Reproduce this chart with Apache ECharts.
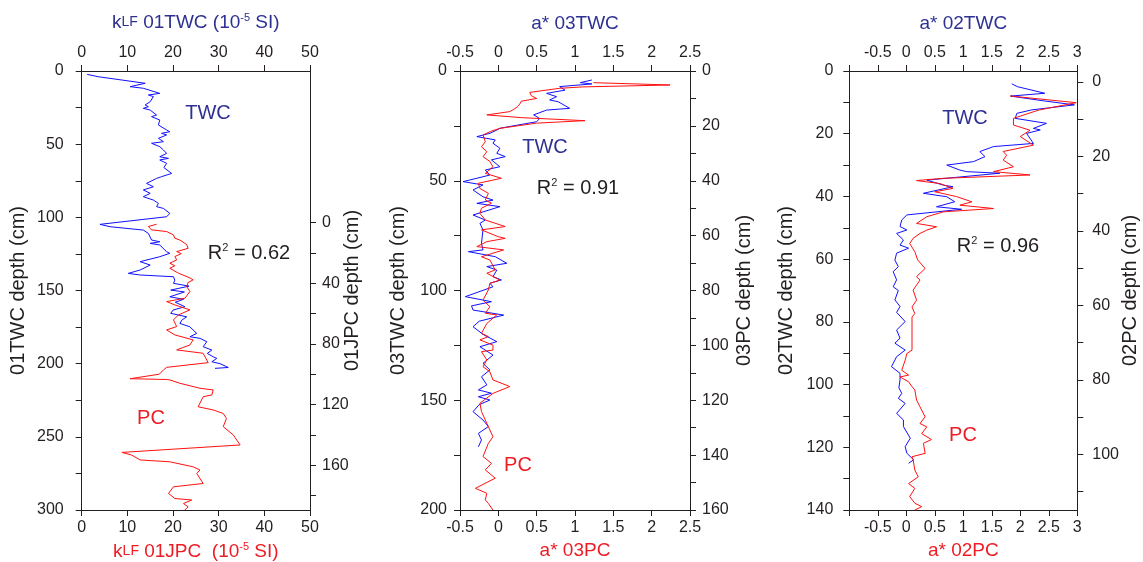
<!DOCTYPE html>
<html><head><meta charset="utf-8">
<script src="https://cdn.jsdelivr.net/npm/echarts@6/dist/echarts.min.js"></script>
<style>html,body{margin:0;padding:0;background:#fff}#c{width:1143px;height:562px}</style>
</head><body><div id="c"></div><script>
// ---- Panel 1: kLF 01TWC (depth cm, value 1e-5 SI) and 01JPC ----
const p1Twc = [[2.3,1.2],[3.9,3.6],[5,4.0],[8.4,13.9],[10.7,10.6],[11.8,13.5],[15.3,17.1],[16.4,14.6],[17.5,15.7],[21,15.0],[23.2,13.9],[24.4,14.6],[25.5,13.5],[26.7,15.0],[30.1,16.4],[31.2,15.3],[33.5,17.1],[36.9,16.8],[40.3,18.6],[41.5,19.3],[42.6,17.5],[43.7,18.6],[46,16.8],[48.3,17.9],[49.4,15.3],[51.7,17.1],[54,17.9],[56.3,18.6],[58.6,17.1],[59.7,19.0],[60.8,17.1],[63.1,18.6],[66,18.0],[70,19.7],[72.2,17.5],[73.4,16.4],[76.8,14.2],[79.1,15.7],[81.3,13.5],[83.6,15.0],[85.9,13.5],[88.2,15.7],[90.5,16.8],[92.7,16.4],[93.9,17.9],[97.3,19.3],[98.4,19.7],[99.6,18.6],[104.8,4.0],[106.4,6.2],[108.7,13.5],[111,14.6],[115.5,15.3],[116.7,17.1],[117.8,15.0],[118.9,17.1],[123.5,18.6],[124.6,19.3],[126.9,17.1],[130.3,12.8],[132.6,15.0],[136,12.8],[138.3,10.2],[139.4,12.8],[140.6,20.1],[142.9,20.4],[145.1,20.1],[147,23.5],[149.7,19.5],[151,22.5],[154.3,19.3],[156,22.3],[158,20.5],[161.1,22.6],[163.4,20.0],[165.6,19.5],[168,23.0],[170,22.0],[172.5,21.5],[174.8,23.7],[177,24.4],[179.3,25.2],[181.6,23.7],[182.7,25.9],[185,27.4],[188.4,26.6],[190.7,28.5],[193,27.5],[195.3,28.8],[196.4,29.6],[198.7,28.5],[200,30.3],[202.6,32.1],[203.2,29.2]];
const p1Pc = [[1.1,16.4],[2.6,14.6],[4.8,15.3],[5.9,18.6],[8.1,20.1],[10.3,20.4],[11.5,21.5],[12.5,21.2],[14.5,23.0],[17,23.3],[19.1,20.8],[20.5,21.8],[22.4,20.4],[24.6,20.8],[26.8,19.3],[28.5,20.4],[30.1,19.3],[33.4,21.2],[36.5,23.7],[37.8,24.4],[39.5,23.3],[42.2,23.0],[45.5,23.7],[49.9,22.6],[52.1,18.6],[54.3,20.4],[57.6,23.7],[60.9,21.2],[64.2,20.1],[68.6,20.8],[70.8,18.6],[74.1,20.4],[77.4,24.4],[80.7,23.7],[84,20.8],[86.2,26.6],[92.4,27.7],[95.5,18.6],[97.2,17.9],[100,17.0],[103,10.6],[103.5,18.6],[103.8,19.3],[106,21.5],[109.3,25.9],[110.4,28.8],[113.7,28.5],[114.9,26.6],[121.5,25.5],[123.6,28.8],[125.9,31.0],[129.2,31.7],[134.6,31.0],[140.1,33.2],[146.7,34.7],[151.6,8.8],[153.3,10.9],[156.6,12.8],[157.8,19.3],[161.1,24.4],[163.2,25.9],[165.5,25.2],[172.1,26.6],[174.3,20.1],[178.7,19.0],[182,20.4],[183,24.1],[185.3,22.3],[187.5,23.3],[189.6,22.6]];
// ---- Panel 2: a* 03TWC and 03PC ----
const p2Twc = [[4.1,1.22],[5.3,1.07],[5.9,1.22],[7.1,0.80],[8.7,0.87],[10.2,0.63],[11.7,0.76],[13.2,0.67],[14,0.78],[17,0.93],[17.8,0.63],[20,0.46],[21.6,0.54],[23.1,0.5],[26.1,0.02],[26.9,-0.02],[28.4,-0.11],[29.9,-0.28],[30.7,-0.15],[31.4,-0.04],[32.9,-0.07],[35.2,0.02],[37.5,-0.02],[39,0.09],[40.5,-0.09],[43.6,0.02],[45.1,-0.17],[47.4,-0.11],[50.4,-0.46],[51.9,-0.20],[54.2,-0.33],[57.3,-0.20],[58.8,-0.07],[60.3,-0.28],[61.8,0.02],[65.6,-0.33],[67.9,-0.17],[69.4,-0.24],[72.4,-0.20],[78.5,-0.22],[81.5,-0.20],[82.3,-0.39],[84.6,-0.04],[87.6,0.11],[89.1,-0.15],[90.7,-0.02],[93.7,-0.07],[95.2,0.04],[96.7,-0.11],[98.3,-0.07],[102.8,-0.43],[105.1,-0.09],[107,-0.35],[108.9,-0.33],[111.2,0.07],[114,-0.25],[116.5,-0.33],[120,-0.2],[123.3,-0.02],[125.6,-0.24],[129.4,-0.07],[133.2,-0.2],[136.2,-0.11],[139.3,-0.22],[143,-0.15],[145.3,-0.26],[146.8,-0.09],[148.4,-0.26],[149.9,-0.11],[152,-0.25],[155.2,-0.33],[159,-0.2],[162,-0.13],[165.1,-0.26],[168.1,-0.22],[171.2,-0.26]];
const p2Pc = [[4.25,1.24],[5.1,2.24],[5.8,1.1],[6.3,0.80],[7.8,0.41],[9,0.43],[10,0.5],[11,0.3],[12,0.28],[13,0.25],[14,0.2],[14.8,0.15],[16,-0.15],[17,0.3],[18.1,1.13],[19,0.5],[20.9,0.02],[22,-0.1],[23.3,-0.2],[25.8,-0.17],[27.6,-0.22],[29.4,-0.15],[31.2,-0.2],[33,-0.11],[34.9,-0.07],[37.3,-0.17],[39.1,0.04],[40.9,-0.26],[42.8,-0.24],[44.6,-0.13],[47,-0.17],[48.2,-0.09],[50,-0.22],[51.9,-0.24],[54.3,-0.17],[56.7,0.09],[57.9,-0.22],[60.4,0.0],[61,0.09],[62.2,-0.15],[64,-0.28],[65.2,0.07],[67.7,-0.22],[68.9,-0.11],[72.5,-0.04],[73.7,-0.15],[76.2,0.02],[77.4,-0.11],[79.8,-0.13],[83.5,-0.20],[85.9,-0.11],[88.3,-0.17],[88.9,-0.02],[92,-0.15],[95.6,-0.22],[96.8,-0.13],[98,-0.24],[99.9,-0.07],[101.7,-0.07],[102.3,-0.22],[105.3,-0.15],[107.8,-0.20],[109.6,-0.11],[112.6,-0.07],[115,0.15],[117.5,-0.07],[121.1,-0.24],[124.1,-0.22],[127.2,-0.17],[133.3,-0.07],[135.7,-0.13],[140.5,-0.20],[143,-0.09],[145.4,-0.17],[148.4,-0.04],[152.1,-0.30],[153.9,-0.15],[156.3,-0.17],[157.6,-0.13],[160,-0.07]];
// ---- Panel 3: a* 02TWC and 02PC ----
const p3Twc = [[4.1,1.85],[5,1.95],[7.1,2.43],[8,1.83],[9.5,2.4],[10.8,2.95],[12.4,2.2],[13.5,1.94],[15.1,1.91],[16.7,2.46],[18.3,2.23],[18.8,2.35],[19.9,2.11],[23.1,2.23],[24.1,1.53],[25.7,1.29],[27.3,1.38],[28.9,1.18],[30,0.71],[31.6,0.94],[32.1,1.06],[32.6,1.64],[34.8,0.36],[36.4,0.65],[36.9,0.82],[39,0.30],[40.1,0.71],[41.7,0.85],[43.3,0.53],[44.1,0.97],[45.9,0.01],[47.5,-0.08],[49.6,-0.11],[50.7,0.01],[51.8,-0.17],[53.9,-0.05],[55.5,-0.11],[56.5,0.04],[58.1,-0.17],[60.3,-0.20],[62.4,-0.14],[64,-0.23],[66.6,-0.17],[68.8,-0.23],[70,-0.14],[73,-0.20],[75.1,-0.11],[77,-0.17],[79.9,-0.02],[82.6,-0.17],[85.2,-0.11],[86.8,-0.20],[89,-0.02],[91.1,-0.17],[94.3,-0.26],[96.4,-0.11],[98.5,-0.11],[101,-0.13],[102.8,-0.08],[104.4,-0.14],[106,-0.02],[109.2,-0.17],[111.3,-0.05],[113.4,-0.05],[117.1,0.07],[119.8,-0.02],[121.9,0.01],[124,0.13],[125.1,0.04]];
const p3Pc = [[3.8,1.82],[5.6,2.98],[7.6,2.32],[9.8,1.88],[11.6,1.88],[13,2.17],[14.7,2.0],[17,2.23],[18.7,1.70],[19.7,1.76],[21,1.70],[22.8,1.88],[24.1,1.53],[25,2.17],[25.9,0.65],[26.5,0.18],[27.3,0.59],[28.6,0.82],[29.5,0.50],[30.8,0.88],[32.2,1.15],[33.1,0.94],[34,1.53],[34.9,0.65],[36.2,0.36],[38,0.18],[38.9,0.53],[39.8,0.36],[40.7,0.24],[42,0.12],[43.4,0.06],[45.6,0.15],[47.8,0.2],[50.1,0.33],[52.3,0.18],[53.2,0.24],[55.9,0.12],[58.6,0.18],[60.4,0.10],[62.2,0.15],[63.1,0.10],[72,0.10],[72.9,0.01],[74.7,-0.02],[77.4,-0.08],[78.7,0.04],[79.2,-0.11],[80.5,0.04],[81.8,0.10],[82.7,0.15],[85.4,0.18],[87.2,0.24],[89.9,0.33],[91.7,0.24],[92.6,0.36],[94.4,0.27],[96,0.44],[97,0.30],[99.7,0.33],[100.6,0.10],[101.5,0.12],[104.2,0.15],[106,0.21],[107.8,0.04],[109.1,0.15],[111.3,0.06],[113.1,0.15],[114,0.27],[114.9,0.15]];

// tick labels
const p1RightLabels = [0,40,80,120,160];
const p3RightLabels = [0,20,40,60,80,100];

const FONT = 'Liberation Sans, Arial, Helvetica, sans-serif';
const TXT = '#231f20', BLUE_T = '#2e3192', RED_T = '#ed1c24', BLUE_L = '#1010ff', RED_L = '#ff1010';

const grids = [
  {left: 81.7, top: 71, width: 228.3, height: 439, containLabel:false, outerBoundsMode:'none'},
  {left: 460, top: 71, width: 230, height: 439, containLabel:false, outerBoundsMode:'none'},
  {left: 849.3, top: 71, width: 228, height: 439, containLabel:false, outerBoundsMode:'none'}
];

function line(){ return {show:true, onZero:false, lineStyle:{color:TXT, width:1}}; }
function tick(extra){ return Object.assign({show:true, inside:false, length:6, lineStyle:{color:TXT, width:1}}, extra||{}); }
function lbl(extra){ return Object.assign({color:TXT, fontSize:16, fontFamily:FONT}, extra||{}); }

function xName(text, color){ return {name:text, nameLocation:'middle', nameMoveOverlap:false, nameTextStyle:{color:color, fontSize:19, fontFamily:FONT, rich:{s:{color:color,fontSize:14,fontFamily:FONT}, sup:{color:color,fontSize:11,fontFamily:FONT,padding:[0,0,10,0]}}}}; }
function fmtX(v){ return (Math.abs(v+1)<1e-9) ? '' : String(+v.toFixed(1)); }

const TOPM = 10, BOTM = 10, TOPG = 38, BOTG = 31;
const xAxis = [
  Object.assign({type:'value', gridIndex:0, position:'top', min:0, max:50, interval:10, axisLine:line(), axisTick:tick(), axisLabel:lbl({margin:TOPM}), splitLine:{show:false}, nameGap:TOPG}, xName('k{s|LF} 01TWC (10{sup|-5} SI)', BLUE_T)),
  Object.assign({type:'value', gridIndex:0, position:'bottom', min:0, max:50, interval:10, axisLine:line(), axisTick:tick(), axisLabel:lbl({margin:BOTM}), splitLine:{show:false}, nameGap:BOTG}, xName('k{s|LF} 01JPC  (10{sup|-5} SI)', RED_T)),
  Object.assign({type:'value', gridIndex:1, position:'top', min:-0.5, max:2.5, interval:0.5, axisLine:line(), axisTick:tick(), axisLabel:lbl({margin:TOPM, formatter:fmtX}), splitLine:{show:false}, nameGap:TOPG}, xName('a* 03TWC', BLUE_T)),
  Object.assign({type:'value', gridIndex:1, position:'bottom', min:-0.5, max:2.5, interval:0.5, axisLine:line(), axisTick:tick(), axisLabel:lbl({margin:BOTM, formatter:fmtX}), splitLine:{show:false}, nameGap:BOTG}, xName('a* 03PC', RED_T)),
  Object.assign({type:'value', gridIndex:2, position:'top', min:-1, max:3, interval:0.5, axisLine:line(), axisTick:tick(), axisLabel:lbl({margin:TOPM, formatter:fmtX}), splitLine:{show:false}, nameGap:TOPG}, xName('a* 02TWC', BLUE_T)),
  Object.assign({type:'value', gridIndex:2, position:'bottom', min:-1, max:3, interval:0.5, axisLine:line(), axisTick:tick(), axisLabel:lbl({margin:BOTM, formatter:fmtX}), splitLine:{show:false}, nameGap:BOTG}, xName('a* 02PC', RED_T)),
];

function yName(text, gap){ return {name:text, nameLocation:'middle', nameGap:gap, nameRotate:90, nameMoveOverlap:false, nameTextStyle:{color:TXT, fontSize:20, fontFamily:FONT}}; }
function every(n){ return function(v){ return (Math.round(v) % n === 0) ? String(Math.round(v)) : ''; }; }
function range(a,b,s){ const r=[]; for(let v=a; v<=b+1e-9; v+=s) r.push(v); return r; }

const yAxis = [
  Object.assign({type:'value', gridIndex:0, position:'left', inverse:true, min:0, max:300, interval:25, axisLine:line(), axisTick:tick(), axisLabel:lbl({margin:18, formatter:every(50)}), splitLine:{show:false}}, yName('01TWC depth (cm)', 53)),
  Object.assign({type:'value', gridIndex:0, position:'right', inverse:true, min:-100, max:189.6, axisLine:line(), axisTick:tick({customValues:range(0,180,20)}), axisLabel:lbl({margin:12, customValues:p1RightLabels}), splitLine:{show:false}}, yName('01JPC depth (cm)', 32)),
  Object.assign({type:'value', gridIndex:1, position:'left', inverse:true, min:0, max:200, interval:25, axisLine:line(), axisTick:tick(), axisLabel:lbl({margin:13, formatter:every(50)}), splitLine:{show:false}}, yName('03TWC depth (cm)', 52)),
  Object.assign({type:'value', gridIndex:1, position:'right', inverse:true, min:0, max:160, interval:10, axisLine:line(), axisTick:tick(), axisLabel:lbl({margin:12, formatter:every(20)}), splitLine:{show:false}}, yName('03PC depth (cm)', 44)),
  Object.assign({type:'value', gridIndex:2, position:'left', inverse:true, min:0, max:140, interval:10, axisLine:line(), axisTick:tick(), axisLabel:lbl({margin:16, formatter:every(20)}), splitLine:{show:false}}, yName('02TWC depth (cm)', 53)),
  Object.assign({type:'value', gridIndex:2, position:'right', inverse:true, min:-2.9, max:114.9, axisLine:line(), axisTick:tick({customValues:range(0,110,10)}), axisLabel:lbl({margin:15, customValues:p3RightLabels}), splitLine:{show:false}}, yName('02PC depth (cm)', 43)),
];

function ser(data, xi, yi, color){
  return {type:'line', xAxisIndex:xi, yAxisIndex:yi, data:data.map(d=>[d[1], d[0]]), showSymbol:false, symbol:'none', lineStyle:{color:color, width:1}, itemStyle:{color:color}, animation:false, silent:true};
}
const series = [
  ser(p1Twc,0,0,BLUE_L), ser(p1Pc,1,1,RED_L),
  ser(p2Twc,2,2,BLUE_L), ser(p2Pc,3,3,RED_L),
  ser(p3Twc,4,4,BLUE_L), ser(p3Pc,5,5,RED_L),
];

function gtext(x,y,text,color){
  return {type:'text', x:x, y:y, style:{text:text, fill:color, font:'20px '+FONT, align:'center', verticalAlign:'middle',
    rich:{sup:{fontSize:11, fontFamily:FONT, fill:color, padding:[0,0,10,0]}}}};
}
const graphic = [
  gtext(208,113,'TWC',BLUE_T), gtext(249,253,'R{sup|2} = 0.62',TXT), gtext(151,418,'PC',RED_T),
  gtext(545,147,'TWC',BLUE_T), gtext(578,188,'R{sup|2} = 0.91',TXT), gtext(518,465,'PC',RED_T),
  gtext(965,118,'TWC',BLUE_T), gtext(998,246,'R{sup|2} = 0.96',TXT), gtext(963,435,'PC',RED_T),
];

const chart = echarts.init(document.getElementById('c'), null, {renderer:'canvas'});
chart.setOption({animation:false, backgroundColor:'#fff', grid:grids, xAxis:xAxis, yAxis:yAxis, series:series, graphic:graphic});
</script></body></html>
